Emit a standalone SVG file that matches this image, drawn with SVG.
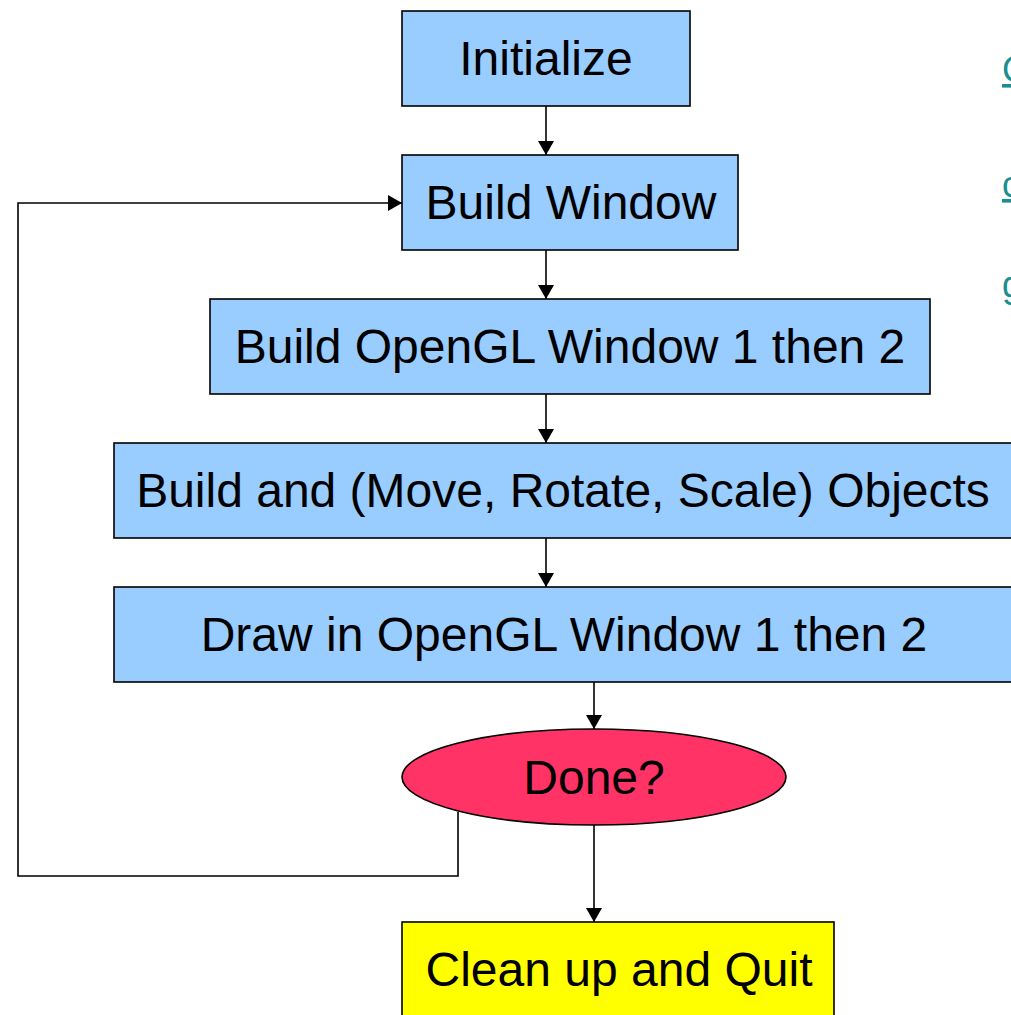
<svg xmlns="http://www.w3.org/2000/svg" width="1011" height="1015" viewBox="0 0 1011 1015">
<style>
.box{fill:#99CCFF;stroke:#000;stroke-width:1.6}
.lbl{font-family:"Liberation Sans",Arial,sans-serif;font-size:48px;fill:#000;text-anchor:middle}
.link{font-family:"Liberation Sans",Arial,sans-serif;font-size:36px;fill:#1A8F8F;text-decoration:underline}
.conn{fill:none;stroke:#000;stroke-width:1.6}
</style>
<defs>
<marker id="arr" viewBox="0 0 14 16" refX="14" refY="8" markerWidth="14" markerHeight="16" markerUnits="userSpaceOnUse" orient="auto">
<path d="M0,0 L14,8 L0,16 Z" fill="#000"/>
</marker>
</defs>
<rect width="1011" height="1015" fill="#fff"/>
<g id="links">
<text class="link" x="1002" y="82">G</text>
<text class="link" x="1002" y="197">c</text>
<text class="link" x="1002" y="297">g</text>
</g>
<g id="connectors">
<line class="conn" x1="546" y1="106" x2="546" y2="155" marker-end="url(#arr)"/>
<line class="conn" x1="546" y1="250" x2="546" y2="299" marker-end="url(#arr)"/>
<line class="conn" x1="546" y1="394" x2="546" y2="443" marker-end="url(#arr)"/>
<line class="conn" x1="546" y1="538" x2="546" y2="587" marker-end="url(#arr)"/>
<line class="conn" x1="594" y1="682" x2="594" y2="729" marker-end="url(#arr)"/>
<line class="conn" x1="594" y1="825" x2="594" y2="922" marker-end="url(#arr)"/>
<polyline class="conn" points="458,812 458,876 18,876 18,203 402,203" marker-end="url(#arr)"/>
</g>
<g id="initialize">
<rect class="box" x="402" y="11" width="288" height="95"/>
<text class="lbl" x="546" y="75">Initialize</text>
</g>
<g id="build-window">
<rect class="box" x="402" y="155" width="336" height="95"/>
<text class="lbl" x="571" y="219">Build Window</text>
</g>
<g id="build-opengl">
<rect class="box" x="210" y="299" width="720" height="95"/>
<text class="lbl" x="570" y="363">Build OpenGL Window 1 then 2</text>
</g>
<g id="build-objects">
<rect class="box" x="114" y="443" width="904" height="95"/>
<text class="lbl" x="563" y="507">Build and (Move, Rotate, Scale) Objects</text>
</g>
<g id="draw">
<rect class="box" x="114" y="587" width="904" height="95"/>
<text class="lbl" x="564" y="651">Draw in OpenGL Window 1 then 2</text>
</g>
<g id="done">
<ellipse cx="594" cy="777" rx="192" ry="48" fill="#FF3366" stroke="#000" stroke-width="1.6"/>
<text class="lbl" x="594" y="794">Done?</text>
</g>
<g id="cleanup">
<rect x="402" y="922" width="432" height="100" fill="#FFFF00" stroke="#000" stroke-width="1.6"/>
<text class="lbl" x="619" y="986">Clean up and Quit</text>
</g>
</svg>
